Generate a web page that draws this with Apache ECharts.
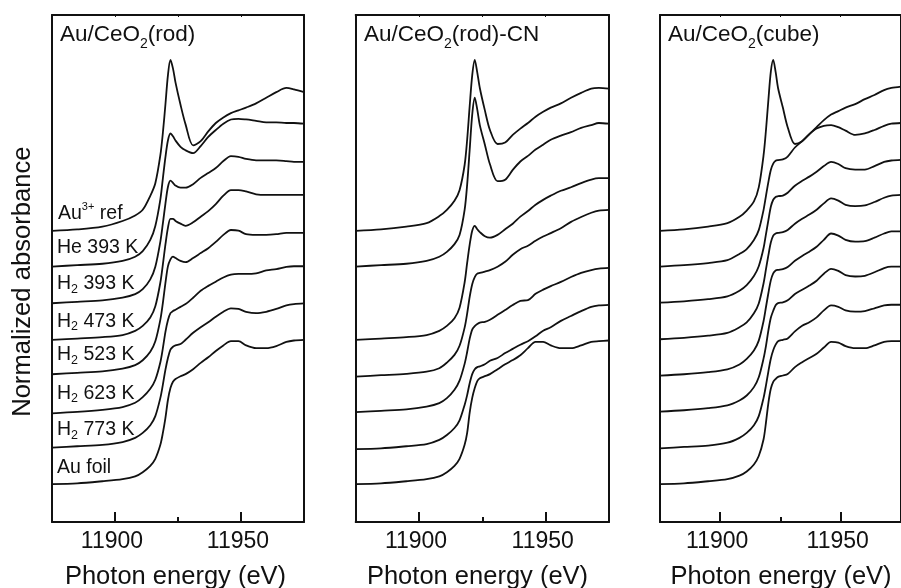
<!DOCTYPE html>
<html><head><meta charset="utf-8">
<script src="https://cdn.jsdelivr.net/npm/echarts@6/dist/echarts.min.js"></script>
<style>html,body{margin:0;padding:0;background:#fff}#c{width:901px;height:588px}</style>
</head><body><div id="c"></div>
<script>
// ---------- DATA ----------
const energy = [11875, 11885, 11895, 11903, 11908, 11911, 11914, 11916, 11918, 11919, 11920, 11921, 11922, 11923, 11924, 11926, 11928, 11931, 11934, 11937, 11940, 11943, 11946, 11949, 11952, 11956, 11960, 11964, 11968, 11971, 11975];
const xMin = 11875, xMax = 11975;
const tickLabels = [11900, 11950];
const minorTicks = [11925];
const xTitle = 'Photon energy (eV)';
const yTitle = 'Normalized absorbance';
const sampleLabels = ['Au³⁺ ref', 'He 393 K', 'H₂ 393 K', 'H₂ 473 K', 'H₂ 523 K', 'H₂ 623 K', 'H₂ 773 K', 'Au foil'];

// Au/CeO2(rod): Au3+ ref, He 393, H2 393, H2 473, H2 523, H2 623, H2 773, Au foil
const rodOffsets = [2.079, 1.824, 1.562, 1.300, 1.055, 0.776, 0.531, 0.271];
const rodAu3 = [0, 0.01, 0.03, 0.07, 0.11, 0.15, 0.25, 0.34, 0.54, 0.70, 0.90, 1.11, 1.22, 1.16, 1.06, 0.90, 0.76, 0.61, 0.64, 0.71, 0.77, 0.81, 0.84, 0.86, 0.88, 0.91, 0.95, 0.99, 1.02, 1.01, 0.99];
const rodHe393 = [0, 0.01, 0.02, 0.04, 0.07, 0.11, 0.19, 0.29, 0.48, 0.63, 0.78, 0.90, 0.95, 0.93, 0.90, 0.855, 0.83, 0.81, 0.86, 0.925, 0.975, 1.02, 1.05, 1.055, 1.05, 1.04, 1.03, 1.03, 1.025, 1.025, 1.02];
const rodH393 = [0, 0.01, 0.02, 0.04, 0.065, 0.10, 0.17, 0.26, 0.44, 0.57, 0.71, 0.83, 0.875, 0.86, 0.84, 0.825, 0.825, 0.85, 0.895, 0.93, 0.965, 1.015, 1.05, 1.045, 1.03, 1.02, 1.02, 1.02, 1.015, 1.01, 1.01];
const rodH473 = [0, 0.01, 0.02, 0.035, 0.065, 0.10, 0.16, 0.24, 0.41, 0.54, 0.68, 0.80, 0.865, 0.865, 0.85, 0.83, 0.815, 0.84, 0.88, 0.92, 0.97, 1.03, 1.07, 1.07, 1.06, 1.04, 1.035, 1.035, 1.035, 1.035, 1.035];
const rodH523 = [0, 0.01, 0.02, 0.04, 0.065, 0.10, 0.16, 0.235, 0.39, 0.51, 0.65, 0.77, 0.82, 0.84, 0.83, 0.81, 0.80, 0.83, 0.865, 0.90, 0.945, 0.995, 1.03, 1.025, 1.00, 0.995, 0.995, 1.00, 1.01, 1.01, 1.01];
const rodH623 = [0, 0.01, 0.025, 0.045, 0.075, 0.115, 0.175, 0.24, 0.365, 0.465, 0.58, 0.665, 0.715, 0.73, 0.74, 0.76, 0.78, 0.825, 0.875, 0.91, 0.94, 0.97, 0.99, 0.995, 0.995, 1.00, 1.02, 1.03, 1.045, 1.05, 1.05];
const rodH773 = [0, 0.01, 0.02, 0.04, 0.07, 0.105, 0.16, 0.225, 0.355, 0.45, 0.555, 0.64, 0.70, 0.72, 0.73, 0.74, 0.77, 0.82, 0.86, 0.895, 0.935, 0.97, 0.995, 0.99, 0.97, 0.96, 0.97, 0.99, 1.015, 1.025, 1.03];
const rodFoil = [0, 0.005, 0.02, 0.035, 0.055, 0.085, 0.13, 0.18, 0.28, 0.365, 0.47, 0.60, 0.685, 0.73, 0.75, 0.77, 0.785, 0.82, 0.865, 0.905, 0.95, 0.99, 1.02, 1.02, 0.99, 0.97, 0.97, 0.985, 1.015, 1.025, 1.03];

// Au/CeO2(rod)-CN (7 spectra)
const cnOffsets = [2.079, 1.824, 1.300, 1.038, 0.784, 0.521, 0.271];
const cnS1 = [0, 0.01, 0.03, 0.055, 0.105, 0.15, 0.215, 0.29, 0.47, 0.65, 0.89, 1.11, 1.22, 1.13, 1.02, 0.86, 0.72, 0.62, 0.63, 0.685, 0.73, 0.77, 0.815, 0.85, 0.88, 0.91, 0.95, 0.985, 1.015, 1.02, 1.015];
const cnS2 = [0, 0.01, 0.02, 0.04, 0.07, 0.105, 0.16, 0.225, 0.405, 0.585, 0.835, 1.085, 1.205, 1.12, 1.01, 0.87, 0.73, 0.61, 0.62, 0.69, 0.75, 0.79, 0.835, 0.87, 0.905, 0.935, 0.96, 0.99, 1.01, 1.025, 1.02];
const cnS3 = [0, 0.01, 0.02, 0.035, 0.065, 0.10, 0.155, 0.23, 0.41, 0.55, 0.68, 0.78, 0.815, 0.79, 0.77, 0.74, 0.73, 0.75, 0.79, 0.83, 0.88, 0.92, 0.965, 1.00, 1.03, 1.065, 1.09, 1.12, 1.145, 1.155, 1.155];
const cnS4 = [0, 0.01, 0.02, 0.035, 0.06, 0.10, 0.155, 0.22, 0.35, 0.45, 0.57, 0.66, 0.71, 0.735, 0.74, 0.75, 0.76, 0.785, 0.82, 0.87, 0.91, 0.935, 0.97, 1.00, 1.025, 1.06, 1.105, 1.14, 1.17, 1.185, 1.19];
const cnS5 = [0, 0.01, 0.02, 0.04, 0.065, 0.10, 0.16, 0.225, 0.345, 0.43, 0.525, 0.59, 0.615, 0.63, 0.64, 0.645, 0.66, 0.695, 0.73, 0.765, 0.795, 0.80, 0.845, 0.875, 0.90, 0.93, 0.965, 0.995, 1.015, 1.025, 1.03];
const cnS6 = [0, 0.005, 0.02, 0.035, 0.065, 0.10, 0.15, 0.205, 0.315, 0.385, 0.47, 0.535, 0.57, 0.585, 0.59, 0.605, 0.63, 0.65, 0.685, 0.715, 0.745, 0.77, 0.805, 0.845, 0.87, 0.915, 0.95, 0.985, 1.015, 1.025, 1.03];
const cnFoil = [0, 0.005, 0.02, 0.035, 0.055, 0.085, 0.13, 0.18, 0.28, 0.365, 0.51, 0.615, 0.685, 0.735, 0.755, 0.77, 0.785, 0.82, 0.855, 0.885, 0.92, 0.97, 1.015, 1.015, 0.99, 0.97, 0.97, 0.99, 1.015, 1.02, 1.025];

// Au/CeO2(cube) (8 spectra)
const cubeOffsets = [2.079, 1.824, 1.566, 1.305, 1.045, 0.788, 0.526, 0.271];
const cubeS1 = [0, 0.01, 0.03, 0.055, 0.10, 0.145, 0.21, 0.31, 0.54, 0.72, 0.935, 1.135, 1.22, 1.135, 1.02, 0.88, 0.74, 0.62, 0.64, 0.69, 0.74, 0.79, 0.83, 0.855, 0.88, 0.905, 0.94, 0.97, 1.005, 1.02, 1.03];
const cubeS2 = [0, 0.01, 0.025, 0.045, 0.09, 0.125, 0.19, 0.26, 0.405, 0.505, 0.605, 0.69, 0.735, 0.755, 0.76, 0.765, 0.785, 0.85, 0.895, 0.945, 0.985, 1.005, 1.01, 0.995, 0.97, 0.94, 0.95, 0.975, 1.005, 1.02, 1.025];
const cubeS3 = [0, 0.01, 0.025, 0.045, 0.085, 0.125, 0.19, 0.26, 0.39, 0.49, 0.59, 0.685, 0.735, 0.755, 0.76, 0.765, 0.785, 0.835, 0.87, 0.90, 0.935, 0.975, 1.005, 0.99, 0.96, 0.95, 0.95, 0.975, 1.005, 1.015, 1.02];
const cubeS4 = [0, 0.01, 0.025, 0.045, 0.085, 0.12, 0.185, 0.255, 0.40, 0.50, 0.60, 0.69, 0.74, 0.755, 0.76, 0.765, 0.78, 0.825, 0.86, 0.89, 0.925, 0.97, 1.005, 0.99, 0.96, 0.95, 0.955, 0.98, 1.01, 1.025, 1.03];
const cubeS5 = [0, 0.01, 0.025, 0.045, 0.08, 0.12, 0.18, 0.25, 0.39, 0.49, 0.59, 0.68, 0.73, 0.75, 0.755, 0.76, 0.775, 0.82, 0.855, 0.885, 0.92, 0.97, 1.015, 1.00, 0.97, 0.957, 0.96, 0.985, 1.015, 1.03, 1.03];
const cubeS6 = [0, 0.01, 0.025, 0.045, 0.08, 0.115, 0.175, 0.245, 0.38, 0.47, 0.58, 0.67, 0.72, 0.76, 0.775, 0.78, 0.795, 0.84, 0.87, 0.90, 0.935, 0.985, 1.02, 1.005, 0.975, 0.965, 0.97, 0.995, 1.025, 1.035, 1.035];
const cubeS7 = [0, 0.01, 0.02, 0.04, 0.075, 0.11, 0.165, 0.23, 0.36, 0.45, 0.55, 0.64, 0.70, 0.74, 0.765, 0.775, 0.785, 0.835, 0.875, 0.90, 0.935, 0.985, 1.02, 1.01, 0.985, 0.976, 0.98, 1.00, 1.02, 1.025, 1.025];
const cubeFoil = [0, 0.005, 0.02, 0.035, 0.06, 0.09, 0.14, 0.20, 0.32, 0.44, 0.58, 0.68, 0.73, 0.75, 0.765, 0.775, 0.785, 0.835, 0.87, 0.90, 0.93, 0.975, 1.015, 1.01, 0.985, 0.97, 0.97, 0.99, 1.015, 1.02, 1.02];

const yMin = 0, yMax = 3.62;

// ---------- BUILD ----------
const FONT = "'Liberation Sans', Arial, Helvetica, sans-serif";
const INK = '#111';
const panels = [
  { title: '{m|Au/CeO}{s|2}{m|(rod)}', offsets: rodOffsets,
    spectra: [rodAu3, rodHe393, rodH393, rodH473, rodH523, rodH623, rodH773, rodFoil],
    grid: { left: 52, width: 252 }, titleX: 60, xTitleX: 175.5 },
  { title: '{m|Au/CeO}{s|2}{m|(rod)-CN}', offsets: cnOffsets,
    spectra: [cnS1, cnS2, cnS3, cnS4, cnS5, cnS6, cnFoil],
    grid: { left: 355.7, width: 253.3 }, titleX: 364, xTitleX: 477.5 },
  { title: '{m|Au/CeO}{s|2}{m|(cube)}', offsets: cubeOffsets,
    spectra: [cubeS1, cubeS2, cubeS3, cubeS4, cubeS5, cubeS6, cubeS7, cubeFoil],
    grid: { left: 659.9, width: 251.2 }, titleX: 668, xTitleX: 781 }
];

const grids = [], xAxes = [], yAxes = [], series = [], graphics = [];
const axisLineStyle = { color: INK, width: 2 };
panels.forEach((p, pi) => {
  grids.push({ left: p.grid.left, width: p.grid.width, top: 15, bottom: 66, containLabel: false });
  // main bottom axis
  xAxes.push({ type: 'value', gridIndex: pi, position: 'bottom', min: xMin, max: xMax,
    axisLine: { show: true, onZero: false, lineStyle: axisLineStyle },
    axisTick: { show: true, inside: true, length: 10, customValues: tickLabels, lineStyle: { color: INK, width: 2 } },
    axisLabel: { show: true, customValues: tickLabels, formatter: v => String(v), color: INK, fontSize: 23, fontFamily: FONT, lineHeight: 23, margin: 8.5, padding: [0, 6, 0, 0] },
    splitLine: { show: false } });
  // minor ticks
  xAxes.push({ type: 'value', gridIndex: pi, position: 'bottom', min: xMin, max: xMax,
    axisLine: { show: false },
    axisTick: { show: true, inside: true, length: 5, customValues: minorTicks, lineStyle: { color: INK, width: 2 } },
    axisLabel: { show: false }, splitLine: { show: false } });
  // top frame
  xAxes.push({ type: 'value', gridIndex: pi, position: 'top', min: xMin, max: xMax,
    axisLine: { show: true, onZero: false, lineStyle: axisLineStyle },
    axisTick: { show: true, inside: true, length: 2, customValues: tickLabels.concat(minorTicks), lineStyle: { color: INK, width: 1 } },
    axisLabel: { show: false }, splitLine: { show: false } });
  yAxes.push({ type: 'value', gridIndex: pi, position: 'left', min: yMin, max: yMax,
    axisLine: { show: true, onZero: false, lineStyle: axisLineStyle },
    axisTick: { show: false }, axisLabel: { show: false }, splitLine: { show: false } });
  yAxes.push({ type: 'value', gridIndex: pi, position: 'right', min: yMin, max: yMax,
    axisLine: { show: true, onZero: false, lineStyle: axisLineStyle },
    axisTick: { show: false }, axisLabel: { show: false }, splitLine: { show: false } });

  p.spectra.forEach((mu, si) => {
    series.push({
      type: 'line', xAxisIndex: pi * 3, yAxisIndex: pi * 2,
      data: energy.map((e, k) => [e, p.offsets[si] + mu[k]]),
      showSymbol: false, symbol: 'none', smooth: 0.3, clip: true,
      lineStyle: { color: INK, width: 1.8 }, silent: true
    });
  });

  graphics.push({ type: 'text', x: p.titleX, y: 18.3, silent: true,
    style: { text: p.title, fill: INK, verticalAlign: 'top', align: 'left',
      rich: {
        m: { fontSize: 22.5, fontFamily: FONT, fill: INK, lineHeight: 33 },
        s: { fontSize: 14, fontFamily: FONT, fill: INK, lineHeight: 14, verticalAlign: 'bottom' }
      } } });
  graphics.push({ type: 'text', x: p.xTitleX, y: 576.8, silent: true,
    style: { text: xTitle, fill: INK, fontSize: 25.5, fontFamily: FONT, align: 'center', verticalAlign: 'middle' } });
});

// sample labels (panel 1)
const labelRich = {
  m: { fontSize: 19.5, fontFamily: FONT, fill: INK, lineHeight: 24 },
  s: { fontSize: 12.5, fontFamily: FONT, fill: INK, lineHeight: 12.5, verticalAlign: 'bottom' },
  u: { fontSize: 11, fontFamily: FONT, fill: INK, lineHeight: 11, verticalAlign: 'top' }
};
function toRich(t) {
  if (t.indexOf('³⁺') >= 0) { const [a, b] = t.split('³⁺'); return '{m|' + a + '}{u|3+}{m|' + b + '}'; }
  if (t.indexOf('₂') >= 0) { const [a, b] = t.split('₂'); return '{m|' + a + '}{s|2}{m|' + b + '}'; }
  return '{m|' + t + '}';
}
const labelTops = [201.2, 235.2, 271.9, 309.5, 342.9, 381.2, 417.9, 455.5];
sampleLabels.forEach((t, i) => {
  graphics.push({ type: 'text', x: i === 0 ? 58 : 57, y: labelTops[i], silent: true,
    style: { text: toRich(t), fill: INK, verticalAlign: 'top', align: 'left', rich: labelRich } });
});
graphics.push({ type: 'text', x: 23, y: 281.7, rotation: Math.PI / 2, silent: true,
  style: { text: yTitle, fill: INK, fontSize: 25.6, fontFamily: FONT, align: 'center', verticalAlign: 'middle' } });

const chart = echarts.init(document.getElementById('c'), null, { renderer: 'canvas' });
chart.setOption({
  backgroundColor: '#fff', animation: false,
  grid: grids, xAxis: xAxes, yAxis: yAxes, series: series, graphic: graphics
});
</script></body></html>
